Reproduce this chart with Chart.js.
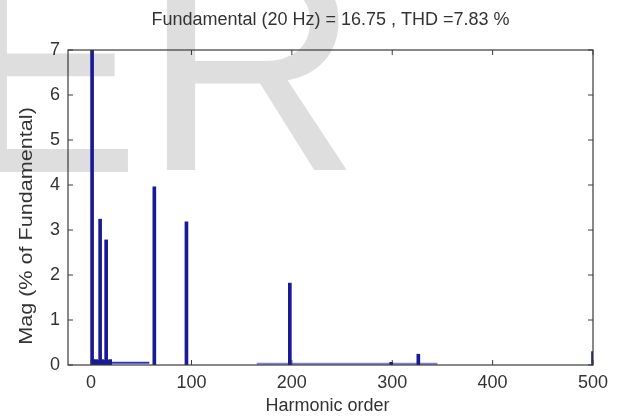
<!DOCTYPE html>
<html>
<head>
<meta charset="utf-8">
<script src="https://cdn.jsdelivr.net/npm/chart.js@4.4.1/dist/chart.umd.min.js"></script>
<style>
  html, body { margin: 0; padding: 0; background: #fff; }
  #wrap { width: 618px; height: 417px; }
</style>
</head>
<body>
<div id="wrap"><canvas id="myChart" width="618" height="417"></canvas></div>
<script>
// harmonic spectrum (% of fundamental)
const harmonics = [1, 2, 3, 4, 5, 6, 7, 9, 11, 13, 15, 17, 19, 63, 95, 198, 299, 326, 500];
const magnitudes = [100, 0.12, 0.1, 0.1, 0.12, 0.1, 0.08, 3.24, 0.12, 0.1, 2.78, 0.1, 0.12, 3.96, 3.18, 1.82, 0.06, 0.24, 0.3];
// low level noise floor, drawn as a thin line along the axis
const floorA = [{x: 0, y: 0.05}, {x: 58, y: 0.05}];
const floorB = [{x: 165, y: 0.03}, {x: 345, y: 0.03}];
const xTicks = [0, 100, 200, 300, 400, 500];
const yTicks = [0, 1, 2, 3, 4, 5, 6, 7];

const titleText = 'Fundamental (20 Hz) = 16.75 , THD =7.83 %';
const xTitle = 'Harmonic order';
const yTitle = 'Mag (% of Fundamental)';

const FONT = '"Liberation Sans", Arial, sans-serif';
const txtColor = '#333';

const watermark = {
    id: 'watermark',
    beforeDraw(chart) {
        const c = chart.ctx;
        c.save();
        c.fillStyle = '#dedede';
        c.font = '303px ' + FONT;
        c.textBaseline = 'alphabetic';
        c.save();
        c.translate(-19, 172);
        c.scale(0.89, 1);
        c.fillText('E', -24, 0);
        c.restore();
        c.fillText('R', 142, 170);
        c.restore();
    }
};

const frame = {
    id: 'frame',
    afterDatasetsDraw(chart) {
        const c = chart.ctx, a = chart.chartArea;
        const xs = chart.scales.x, ys = chart.scales.y;
        c.save();
        c.strokeStyle = '#3a3a3a';
        c.lineWidth = 1.2;
        c.strokeRect(a.left, a.top, a.right - a.left, a.bottom - a.top);
        c.lineWidth = 1;
        c.beginPath();
        xTicks.forEach(v => {
            const px = xs.getPixelForValue(v);
            c.moveTo(px, a.bottom); c.lineTo(px, a.bottom - 5);
            c.moveTo(px, a.top); c.lineTo(px, a.top + 5);
        });
        yTicks.forEach(v => {
            const py = ys.getPixelForValue(v);
            c.moveTo(a.left, py); c.lineTo(a.left + 5, py);
            c.moveTo(a.right, py); c.lineTo(a.right - 5, py);
        });
        c.stroke();

        // titles
        c.fillStyle = txtColor;
        c.textAlign = 'center';
        c.textBaseline = 'middle';
        c.font = '18px ' + FONT;
        c.fillText(titleText, (a.left + a.right) / 2, 20);
        c.fillText(xTitle, (a.left + a.right) / 2 - 3, 406);
        c.translate(27, 226);
        c.rotate(-Math.PI / 2);
        c.scale(1.2, 1);
        c.fillText(yTitle, 0, 0);
        c.restore();
    }
};

const ctx = document.getElementById('myChart').getContext('2d');
const myChart = new Chart(ctx, {
    type: 'bar',
    data: {
        datasets: [
            {
                type: 'line',
                label: 'floor',
                data: floorA,
                borderColor: '#3434b4',
                borderWidth: 2,
                pointRadius: 0,
                order: 2
            },
            {
                type: 'line',
                label: 'floor2',
                data: floorB,
                borderColor: '#8080dc',
                borderWidth: 2,
                pointRadius: 0,
                order: 2
            },
            {
                label: 'Mag',
                data: harmonics.map((h, i) => ({x: h, y: magnitudes[i]})),
                backgroundColor: '#1a1a96',
                borderWidth: 0,
                barThickness: 3,
                order: 1
            }
        ]
    },
    options: {
        responsive: false,
        animation: false,
        events: [],
        layout: { padding: { left: 0, right: 25, top: 50, bottom: 0 } },
        plugins: {
            legend: { display: false },
            tooltip: { enabled: false },
            title: { display: false }
        },
        scales: {
            x: {
                type: 'linear',
                min: -23,
                max: 500,
                offset: false,
                grid: { display: false, drawTicks: false },
                border: { display: false },
                afterBuildTicks(scale) { scale.ticks = xTicks.map(v => ({value: v})); },
                afterFit(scale) { scale.height = 52; },
                ticks: {
                    color: txtColor,
                    font: { family: FONT, size: 18 },
                    padding: 7,
                    maxRotation: 0
                }
            },
            y: {
                min: 0,
                max: 7,
                grid: { display: false, drawTicks: false },
                border: { display: false },
                afterBuildTicks(scale) { scale.ticks = yTicks.map(v => ({value: v})); },
                afterFit(scale) { scale.width = 68; },
                ticks: {
                    color: txtColor,
                    font: { family: FONT, size: 18 },
                    padding: 8
                }
            }
        }
    },
    plugins: [watermark, frame]
});
</script>
</body>
</html>
